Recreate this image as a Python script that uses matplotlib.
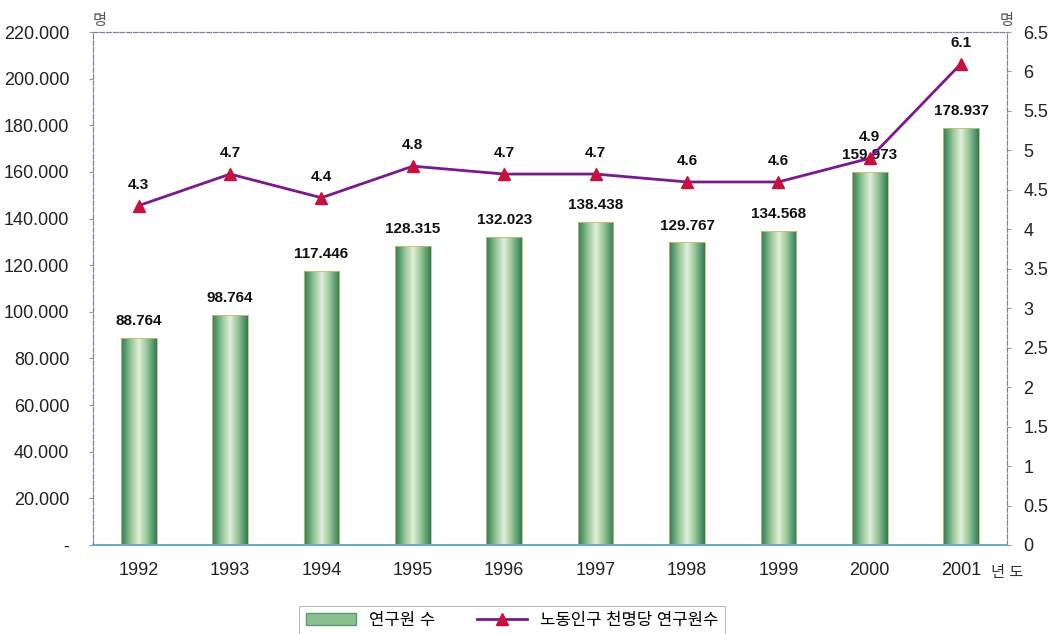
import matplotlib
matplotlib.use("Agg")
import matplotlib.pyplot as plt
import numpy as np
from matplotlib.colors import LinearSegmentedColormap
from matplotlib.lines import Line2D
from matplotlib.patches import Rectangle
from matplotlib.ticker import FuncFormatter, MultipleLocator

plt.rcParams['font.family'] = ['Liberation Sans', 'Noto Sans CJK KR', 'DejaVu Sans']

years = ['1992', '1993', '1994', '1995', '1996', '1997', '1998', '1999', '2000', '2001']
researchers = [88764, 98764, 117446, 128315, 132023, 138438, 129767, 134568, 159973, 178937]
per_thousand = [4.3, 4.7, 4.4, 4.8, 4.7, 4.7, 4.6, 4.6, 4.9, 6.1]

bar_label = '연구원 수'
line_label = '노동인구 천명당 연구원수'


def dotted(v):
    return f"{int(v):,}".replace(',', '.')


fig = plt.figure(figsize=(10.52, 6.34), dpi=100)
ax = fig.add_axes([0.0884, 0.1404, 0.8686, 0.8091])
ax2 = ax.twinx()

x = np.arange(len(years))
width = 0.39

# gradient bars: dark edges, pale centre
cmap = LinearSegmentedColormap.from_list('bar', ['#2f7d55', '#8cc08e', '#e4f0da', '#8cc08e', '#2f7d55'])
grad = np.linspace(0, 1, 64).reshape(1, -1)
bars = ax.bar(x, researchers, width=width, color='none', edgecolor='#c8c070', linewidth=0.6, zorder=2)
for b in bars:
    bx, by = b.get_x(), b.get_y()
    im = ax.imshow(grad, cmap=cmap, aspect='auto', zorder=1,
                   extent=[bx, bx + b.get_width(), by, by + b.get_height()])
    im.set_clip_path(b)

for xi, v in zip(x, researchers):
    ax.annotate(dotted(v), (xi, v), xytext=(0, 7), textcoords='offset points',
                ha='center', va='bottom', fontsize=11, fontweight='bold', color='#111111')

ax.set_xlim(-0.5, len(years) - 0.5)
ax.set_ylim(0, 220000)
ax.yaxis.set_major_locator(MultipleLocator(20000))
ax.yaxis.set_major_formatter(FuncFormatter(lambda v, p: '-' if v == 0 else dotted(v)))
ax.set_xticks(x)
ax.set_xticklabels(years)

ax2.plot(x, per_thousand, color='#7a1a8a', linewidth=2, marker='^', markersize=8,
         markerfacecolor='#c8103c', markeredgecolor='#c8103c', zorder=5)
for xi, v in zip(x, per_thousand):
    ax2.annotate(f"{v}", (xi, v), xytext=(0, 10), textcoords='offset points',
                 ha='center', va='bottom', fontsize=11, fontweight='bold', color='#111111')
ax2.set_ylim(0, 6.5)
ax2.yaxis.set_major_locator(MultipleLocator(0.5))
ax2.yaxis.set_major_formatter(FuncFormatter(lambda v, p: f"{v:g}"))

for a in (ax, ax2):
    a.tick_params(labelsize=13, length=3, color='#999999', colors='#222222')
    for s in ('top', 'left', 'right'):
        a.spines[s].set_linestyle((0, (4, 2)))
        a.spines[s].set_color('#8a7a9a')
        a.spines[s].set_linewidth(0.8)
    a.spines['bottom'].set_color('#6aa8c8')
    a.spines['bottom'].set_linewidth(1.2)
ax.tick_params(axis='x', length=0, pad=12)
ax.tick_params(axis='y', pad=14)
ax2.tick_params(axis='y', pad=9)

ax.text(0.0, 1.008, '명', transform=ax.transAxes, ha='left', va='bottom', fontsize=11, color='#555555')
ax.text(1.0, 1.008, '명', transform=ax.transAxes, ha='center', va='bottom', fontsize=11, color='#555555')
ax.text(0.983, -0.04, '년 도', transform=ax.transAxes, ha='left', va='top', fontsize=11, color='#333333')

handles = [Rectangle((0, 0), 1, 1, facecolor='#8cc08e', edgecolor='#5a9a70'),
           Line2D([], [], color='#7a1a8a', linewidth=2, marker='^', markersize=8,
                  markerfacecolor='#c8103c', markeredgecolor='#c8103c')]
leg = fig.legend(handles, [bar_label, line_label], loc='lower center', bbox_to_anchor=(0.487, -0.014),
                 ncol=2, fontsize=12, frameon=True, fancybox=False, handlelength=3,
                 columnspacing=2.5, borderpad=0.4)
leg.get_frame().set_edgecolor('#aaaaaa')
leg.get_frame().set_linewidth(0.8)

fig.savefig('out.png', dpi=100)
